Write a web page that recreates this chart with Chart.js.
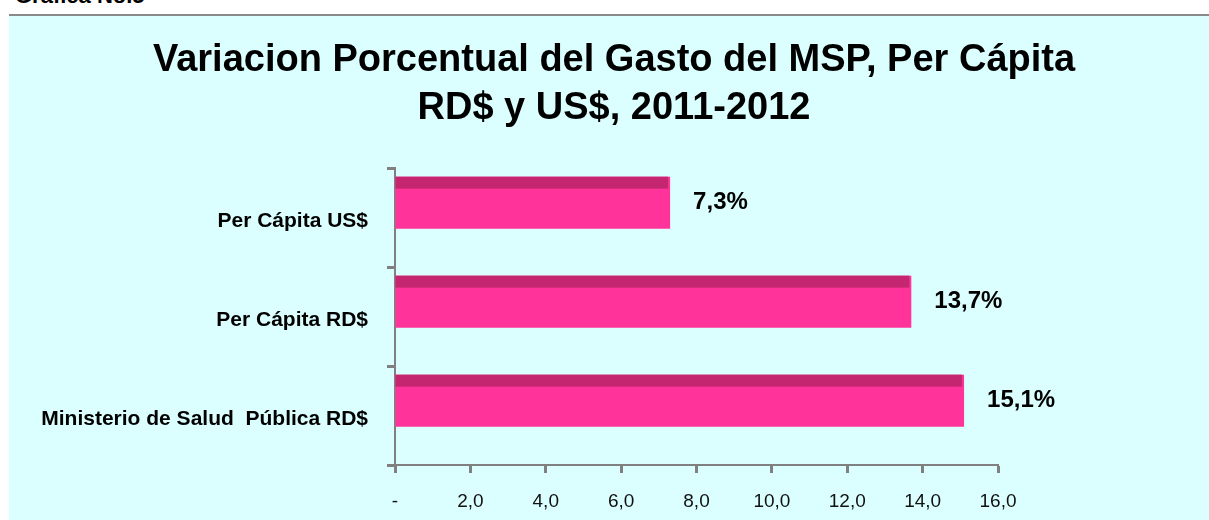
<!DOCTYPE html>
<html>
<head>
<meta charset="utf-8">
<script src="https://cdn.jsdelivr.net/npm/chart.js@4"></script>
<style>
  body { margin: 0; background: #fff; width: 1209px; height: 520px; overflow: hidden; position: relative; font-family: "Liberation Sans", Arial, sans-serif; }
  #caption { position: absolute; left: 15px; top: -17px; font-weight: bold; font-size: 22px; color: #000; }
  #rule { position: absolute; left: 9px; top: 14px; width: 1200px; height: 2px; background: #8a8a8a; }
  #panel { position: absolute; left: 9px; top: 16px; width: 1200px; height: 504px; background: #dbffff; }
  #title { position: absolute; left: 9px; top: 34px; width: 1210px; text-align: center; font-weight: bold; font-size: 38px; line-height: 48px; color: #000; }
</style>
</head>
<body>
<div id="caption">Gráfica No.5</div>
<div id="rule"></div>
<div id="panel"><canvas id="chart" width="1200" height="504"></canvas></div>
<div id="title"></div>
<script>
const categories = ['Per Cápita US$', 'Per Cápita RD$', 'Ministerio de Salud  Pública RD$'];
const values = [7.3, 13.7, 15.1];
const titleLines = ['Variacion Porcentual del Gasto del MSP, Per Cápita', 'RD$ y US$, 2011-2012'];

document.getElementById('title').innerHTML = titleLines.join('<br>');

const gray = '#808080';

// darker top strip + value labels, drawn from the bar elements
const barDecor = {
  id: 'barDecor',
  afterDatasetsDraw(chart) {
    const ctx = chart.ctx;
    const meta = chart.getDatasetMeta(0);
    meta.data.forEach((bar, i) => {
      const top = bar.y - bar.height / 2;
      ctx.save();
      ctx.fillStyle = '#c4276f';
      ctx.fillRect(bar.base, top, bar.x - bar.base - 2, 12);
      ctx.fillStyle = '#000';
      ctx.font = 'bold 24px "Liberation Sans", Arial, sans-serif';
      ctx.textBaseline = 'middle';
      ctx.textAlign = 'left';
      ctx.fillText(values[i].toFixed(1).replace('.', ',') + '%', bar.x + 23, bar.y);
      ctx.restore();
    });
  }
};

new Chart(document.getElementById('chart'), {
  type: 'bar',
  data: {
    labels: categories,
    datasets: [
      {
        data: values,
        backgroundColor: '#ff3399',
        borderWidth: 0,
        barPercentage: 1.75,
        categoryPercentage: 0.6
      },
      // empty slot so the bars sit in the upper part of each band (3D look)
      { data: [], backgroundColor: 'rgba(0,0,0,0)', categoryPercentage: 0.6 }
    ]
  },
  options: {
    indexAxis: 'y',
    responsive: false,
    animation: false,
    layout: { padding: { left: 0, right: 211, top: 152, bottom: 0 } },
    plugins: {
      legend: { display: false },
      tooltip: { enabled: false },
      title: { display: false }
    },
    scales: {
      x: {
        min: 0,
        max: 16,
        afterFit: s => { s.height = 55; },
        ticks: {
          stepSize: 2,
          padding: 17,
          color: '#111',
          font: { family: '"Liberation Sans", Arial, sans-serif', size: 19 },
          callback: v => v === 0 ? '-' : v.toFixed(1).replace('.', ',')
        },
        grid: { drawOnChartArea: false, drawTicks: true, tickLength: 8, tickWidth: 3, tickColor: gray },
        border: { display: true, color: gray, width: 2, dash: [2, 1] }
      },
      y: {
        afterFit: s => { s.width = 386; },
        ticks: {
          padding: 19,
          labelOffset: 4,
          color: '#000',
          font: { family: '"Liberation Sans", Arial, sans-serif', size: 21, weight: 'bold' }
        },
        grid: { drawOnChartArea: false, drawTicks: true, tickLength: 8, tickWidth: 3, tickColor: gray },
        border: { display: true, color: gray, width: 2 }
      }
    }
  },
  plugins: [barDecor]
});
</script>
</body>
</html>
